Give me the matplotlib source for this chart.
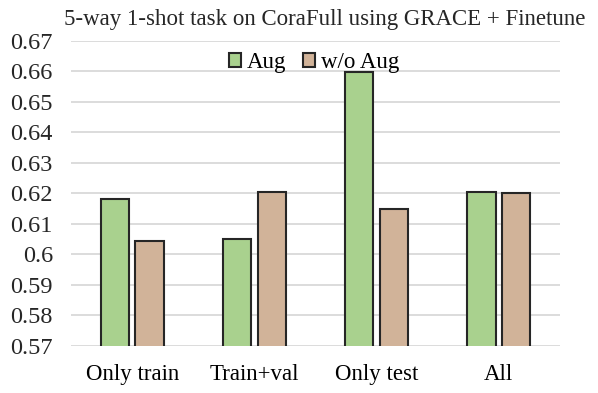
import matplotlib
matplotlib.use("Agg")
import matplotlib.pyplot as plt
import numpy as np

categories = ["Only train", "Train+val", "Only test", "All"]
aug = [0.6182, 0.6051, 0.6598, 0.6203]
wo_aug = [0.6042, 0.6204, 0.6148, 0.6201]
series_names = ["Aug", "w/o Aug"]
yticks = [0.57, 0.58, 0.59, 0.6, 0.61, 0.62, 0.63, 0.64, 0.65, 0.66, 0.67]
ytick_labels = ["0.57", "0.58", "0.59", "0.6", "0.61", "0.62", "0.63", "0.64", "0.65", "0.66", "0.67"]

plt.rcParams['font.family'] = ['Liberation Serif', 'DejaVu Serif']

fig = plt.figure(figsize=(5.98, 3.93), dpi=100)
ax = fig.add_axes([71/598, 1-345.7/393, 489/598, 304.7/393])

x = np.arange(len(categories))
w = 0.23
off = 0.1425
ax.bar(x - off, aug, w, color="#a9d18e", edgecolor="#262626", linewidth=1.5, label=series_names[0], zorder=3)
ax.bar(x + off, wo_aug, w, color="#d1b399", edgecolor="#262626", linewidth=1.5, label=series_names[1], zorder=3)

ax.set_xlim(-0.5, len(categories) - 0.5)
ax.set_ylim(0.57, 0.67)
ax.set_yticks(yticks)
ax.set_yticklabels(ytick_labels, fontsize=17.5, color="#262626")
ax.set_xticks(x)
ax.set_xticklabels(categories, fontsize=16.5, color="black")
ax.tick_params(axis="both", length=0)
ax.tick_params(axis="y", pad=13)
ax.tick_params(axis="x", pad=13)
ax.yaxis.grid(True, color="#d9d9d9", linewidth=1.3, zorder=0)
ax.set_axisbelow(True)
for s in ax.spines.values():
    s.set_visible(False)

ax.legend(loc="upper center", bbox_to_anchor=(0.497, 1.0), ncol=2, frameon=False,
          fontsize=16.5, handlelength=0.55, handleheight=0.55, handletextpad=0.25,
          columnspacing=0.7, borderaxespad=0.1)

fig.text(325/598, 1-20/393, "5-way 1-shot task on CoraFull using GRACE + Finetune",
         ha="center", va="center", fontsize=16.5, color="#262626")

fig.savefig("out.png", dpi=100)
